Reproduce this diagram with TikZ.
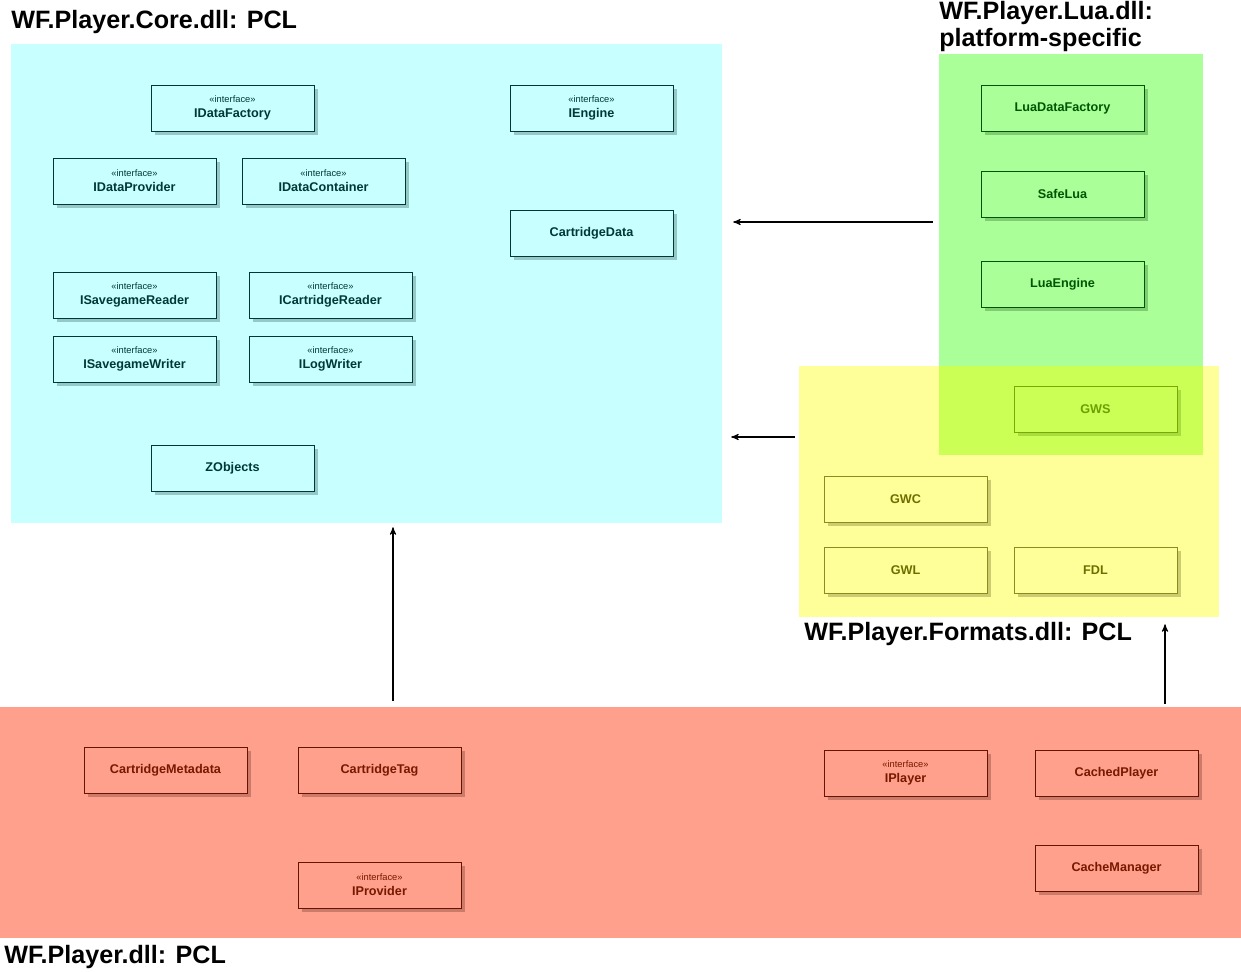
\documentclass[tikz,border=0pt]{standalone}
\usepackage{fontspec}
\setmainfont{Liberation Sans}
\usepackage{xcolor}
\usepackage{tikz}
\usetikzlibrary{arrows,shadows}

\definecolor{coreF}{HTML}{C8FFFF}
\definecolor{coreD}{HTML}{003838}
\definecolor{coreS}{HTML}{96C8C8}
\definecolor{luaF}{HTML}{AAFF99}
\definecolor{luaD}{HTML}{005500}
\definecolor{luaS}{HTML}{80CC70}
\definecolor{fmtF}{HTML}{FFFF99}
\definecolor{fmtD}{HTML}{8C8C1E}
\definecolor{fmtT}{HTML}{6E6E00}
\definecolor{fmtS}{HTML}{CCCC70}
\definecolor{gwsF}{HTML}{CCFF55}
\definecolor{gwsD}{HTML}{7AAA00}
\definecolor{gwsT}{HTML}{6E9E00}
\definecolor{gwsS}{HTML}{A8DD40}
\definecolor{plF}{HTML}{FFA08C}
\definecolor{plD}{HTML}{661400}
\definecolor{plT}{HTML}{781800}
\definecolor{plS}{HTML}{CC7A6A}

\newcommand{\iface}[1]{{\fontsize{5.3}{6}\selectfont\mdseries «interface»}\\[0.6pt]#1}

\begin{document}
\begin{tikzpicture}[x=0.02cm,y=-0.02cm,
  title/.style={anchor=base west, inner sep=0, font=\fontsize{14.3}{15.5}\selectfont\bfseries, align=left},
  cls/.style={draw, line width=0.5pt, minimum width=3.26cm, minimum height=0.92cm, inner sep=0,
    font=\fontsize{7.2}{8}\selectfont\bfseries, align=center},
  corecls/.style={cls, fill=coreF, draw=coreD, text=coreD,
    general shadow={fill=coreS, shadow xshift=0.08cm, shadow yshift=-0.08cm}},
  luacls/.style={cls, fill=luaF, draw=luaD, text=luaD,
    general shadow={fill=luaS, shadow xshift=0.08cm, shadow yshift=-0.08cm}},
  fmtcls/.style={cls, fill=fmtF, draw=fmtD, text=fmtT,
    general shadow={fill=fmtS, shadow xshift=0.08cm, shadow yshift=-0.08cm}},
  gwscls/.style={cls, fill=gwsF, draw=gwsD, text=gwsT,
    general shadow={fill=gwsS, shadow xshift=0.08cm, shadow yshift=-0.08cm}},
  plcls/.style={cls, fill=plF, draw=plD, text=plT,
    general shadow={fill=plS, shadow xshift=0.08cm, shadow yshift=-0.08cm}},
  dep/.style={->,>=stealth', line width=0.6pt}]
\useasboundingbox (0,0) rectangle (1241,972);

% packages
\node[fill=plF, minimum width=24.82cm, minimum height=4.62cm, inner sep=0] (PL) at (620.5,822.5) {};
\node[fill=coreF, minimum width=14.22cm, minimum height=9.58cm, inner sep=0] (CORE) at (366.5,283.5) {};
\node[fill=fmtF, minimum width=8.4cm, minimum height=5.02cm, inner sep=0] (FMT) at (1009,491.5) {};
\node[fill=luaF, minimum width=5.28cm, minimum height=8.02cm, inner sep=0] (LUA) at (1071,254.5) {};
\fill[gwsF] (939,366) rectangle (1203,455);

\node[title] (coreT) at (11,29) {WF.Player.Core.dll: PCL};
\node[title] (luaT) at (939,47) {WF.Player.Lua.dll:\\platform-specific};
\node[title] (fmtT) at (804,641) {WF.Player.Formats.dll: PCL};
\node[title] (plT) at (4,963) {WF.Player.dll: PCL};

% WF.Player.Core
\node[corecls] (IDataFactory) at (232.5,108) {\iface{IDataFactory}};
\node[corecls] (IEngine) at (591.5,108) {\iface{IEngine}};
\node[corecls] (IDataProvider) at (134.5,181) {\iface{IDataProvider}};
\node[corecls] (IDataContainer) at (323.5,181) {\iface{IDataContainer}};
\node[corecls] (CartridgeData) at (591.5,233) {CartridgeData};
\node[corecls] (ISavegameReader) at (134.5,295) {\iface{ISavegameReader}};
\node[corecls] (ICartridgeReader) at (330.5,295) {\iface{ICartridgeReader}};
\node[corecls] (ISavegameWriter) at (134.5,359) {\iface{ISavegameWriter}};
\node[corecls] (ILogWriter) at (330.5,359) {\iface{ILogWriter}};
\node[corecls] (ZObjects) at (232.5,468) {ZObjects};

% WF.Player.Lua
\node[luacls] (LuaDataFactory) at (1062.5,108) {LuaDataFactory};
\node[luacls] (SafeLua) at (1062.5,194) {SafeLua};
\node[luacls] (LuaEngine) at (1062.5,284) {LuaEngine};

% WF.Player.Formats
\node[gwscls] (GWS) at (1095.5,409) {GWS};
\node[fmtcls] (GWC) at (905.5,499) {GWC};
\node[fmtcls] (GWL) at (905.5,570) {GWL};
\node[fmtcls] (FDL) at (1095.5,570) {FDL};

% WF.Player
\node[plcls] (CartridgeMetadata) at (165.5,770) {CartridgeMetadata};
\node[plcls] (CartridgeTag) at (379.5,770) {CartridgeTag};
\node[plcls] (IPlayer) at (905.5,773) {\iface{IPlayer}};
\node[plcls] (CachedPlayer) at (1116.5,773) {CachedPlayer};
\node[plcls] (IProvider) at (379.5,885) {\iface{IProvider}};
\node[plcls] (CacheManager) at (1116.5,868) {CacheManager};

% dependencies
\draw[dep, shorten <=0.12cm, shorten >=0.22cm] (LUA.west |- 0,222) -- (CORE.east |- 0,222);
\draw[dep, shorten <=0.08cm, shorten >=0.18cm] (FMT.west |- 0,437) -- (CORE.east |- 0,437);
\draw[dep, shorten <=0.12cm, shorten >=0.08cm] (PL.north -| 393,0) -- (CORE.south -| 393,0);
\draw[dep, shorten <=0.06cm, shorten >=0.14cm] (PL.north -| 1165,0) -- (FMT.south -| 1165,0);

\end{tikzpicture}
\end{document}
